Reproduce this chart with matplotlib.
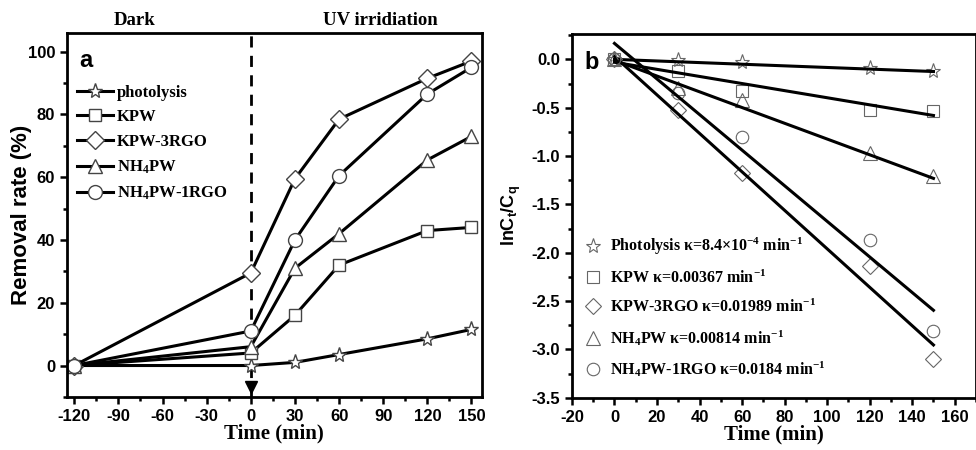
import numpy as np
import matplotlib
matplotlib.use('Agg')
import matplotlib.pyplot as plt
from matplotlib.ticker import MultipleLocator

# panel a data
t_a = [-120, 0, 30, 60, 120, 150]
photolysis_a = [0, 0, 1, 3.5, 8.5, 11.5]
kpw_a = [0, 4, 16, 32, 43, 44]
kpw3rgo_a = [0, 29.5, 59.5, 78.5, 91.5, 97]
nh4pw_a = [0, 6, 31, 42, 65.5, 73]
nh4pw1rgo_a = [0, 11, 40, 60.5, 86.5, 95]

# panel b data
t_b = [0, 30, 60, 120, 150]
photolysis_b = [0, -0.01, -0.03, -0.09, -0.12]
kpw_b = [0, -0.12, -0.33, -0.52, -0.53]
kpw3rgo_b = [0, -0.52, -1.18, -2.14, -3.10]
nh4pw_b = [0, -0.30, -0.42, -0.97, -1.21]
nh4pw1rgo_b = [0, -0.35, -0.80, -1.87, -2.81]

# fitted rate constants and intercepts
k_vals = [8.4e-4, 0.00367, 0.01989, 0.00814, 0.0184]
b_vals = [0.0, -0.03, 0.03, -0.01, 0.165]

names_a = ['photolysis', 'KPW', 'KPW-3RGO', r'NH$\mathregular{_4}$PW', r'NH$\mathregular{_4}$PW-1RGO']
names_b = [r'Photolysis κ=8.4×10$\mathregular{^{-4}}$ min$\mathregular{^{-1}}$',
           r'KPW κ=0.00367 min$\mathregular{^{-1}}$',
           r'KPW-3RGO κ=0.01989 min$\mathregular{^{-1}}$',
           r'NH$\mathregular{_4}$PW κ=0.00814 min$\mathregular{^{-1}}$',
           r'NH$\mathregular{_4}$PW-1RGO κ=0.0184 min$\mathregular{^{-1}}$']
markers = ['*', 's', 'D', '^', 'o']
msizes_a = [11, 9, 9, 10, 10]
msizes_b = [11, 9, 8, 10, 9]

sans = 'Liberation Sans'
serif = 'Liberation Serif'
plt.rcParams['font.family'] = sans
plt.rcParams['font.weight'] = 'bold'
plt.rcParams['axes.unicode_minus'] = False

fig = plt.figure(figsize=(9.76, 4.5), dpi=100)
ax1 = fig.add_axes([0.0686, 0.118, 0.425, 0.809])
ax2 = fig.add_axes([0.586, 0.116, 0.414, 0.808])

def style(ax):
    for s in ax.spines.values():
        s.set_linewidth(2)
    ax.tick_params(which='both', direction='out', width=1.8, top=False, right=False,
                   labelsize=12)
    ax.tick_params(which='major', length=5)
    ax.tick_params(which='minor', length=3)

# ---- panel a
ys_a = [photolysis_a, kpw_a, kpw3rgo_a, nh4pw_a, nh4pw1rgo_a]
for y, m, ms, lab in zip(ys_a, markers, msizes_a, names_a):
    ax1.plot(t_a, y, color='black', lw=2.2, marker=m, ms=ms, mfc='white',
             mec='#444444', mew=1, label=lab)
ax1.axvline(0, color='black', lw=2, ls=(0, (4, 3)), zorder=0)
ax1.plot([0], [-7], marker='v', color='black', ms=9, clip_on=False)
ax1.set_xlim(-125, 157)
ax1.set_ylim(-10, 106)
ax1.set_xticks(np.arange(-120, 151, 30))
ax1.set_yticks(np.arange(0, 101, 20))
ax1.xaxis.set_minor_locator(MultipleLocator(15))
ax1.yaxis.set_minor_locator(MultipleLocator(10))
style(ax1)
ax1.set_xlabel('Time (min)', fontfamily=serif, fontweight='bold', fontsize=15, labelpad=0)
ax1.set_ylabel('Removal rate (%)', fontfamily=sans, fontweight='bold', fontsize=16)
ax1.yaxis.set_label_coords(-0.085, 0.5)
ax1.text(0.03, 0.955, 'a', transform=ax1.transAxes, fontfamily=sans, fontweight='bold',
         fontsize=17, va='top')
ax1.text(-79, 108.5, 'Dark', fontfamily=serif, fontweight='bold', fontsize=13.5, ha='center')
ax1.text(88, 108.5, 'UV irridiation', fontfamily=serif, fontweight='bold', fontsize=13.5, ha='center')
ax1.legend(loc='upper left', bbox_to_anchor=(-0.005, 0.89), frameon=False,
           prop={'family': serif, 'weight': 'bold', 'size': 12},
           handlelength=2.2, handletextpad=0.2, labelspacing=0.52, borderpad=0.2)

# ---- panel b
ys_b = [photolysis_b, kpw_b, kpw3rgo_b, nh4pw_b, nh4pw1rgo_b]
t_fit = np.array([0, 150])
for y, k, b, m, ms, lab in zip(ys_b, k_vals, b_vals, markers, msizes_b, names_b):
    ax2.plot(t_b, y, ls='none', marker=m, ms=ms, mfc='none', mec='#666666', mew=0.8, label=lab)
    ax2.plot(t_fit, b - k * t_fit, color='black', lw=2.2)
ax2.set_xlim(-20, 170)
ax2.set_ylim(-3.5, 0.26)
ax2.set_xticks(np.arange(-20, 161, 20))
ax2.set_yticks(np.arange(-3.5, 0.01, 0.5))
ax2.xaxis.set_minor_locator(MultipleLocator(10))
ax2.yaxis.set_minor_locator(MultipleLocator(0.25))
style(ax2)
ax2.set_xlabel('Time (min)', fontfamily=serif, fontweight='bold', fontsize=15, labelpad=0)
ax2.set_ylabel(r'lnC$\mathregular{_t}$/C$\mathregular{_q}$', fontfamily=sans, fontweight='bold',
               fontsize=13)
ax2.yaxis.set_label_coords(-0.122, 0.5)
ax2.text(0.03, 0.955, 'b', transform=ax2.transAxes, fontfamily=sans, fontweight='bold',
         fontsize=17, va='top')
ax2.legend(loc='lower left', bbox_to_anchor=(0.0, 0.02), frameon=False,
           prop={'family': serif, 'weight': 'bold', 'size': 11.5},
           handlelength=1.2, handletextpad=0.5, labelspacing=0.75, borderpad=0.2)

fig.savefig('out.png', dpi=100)
